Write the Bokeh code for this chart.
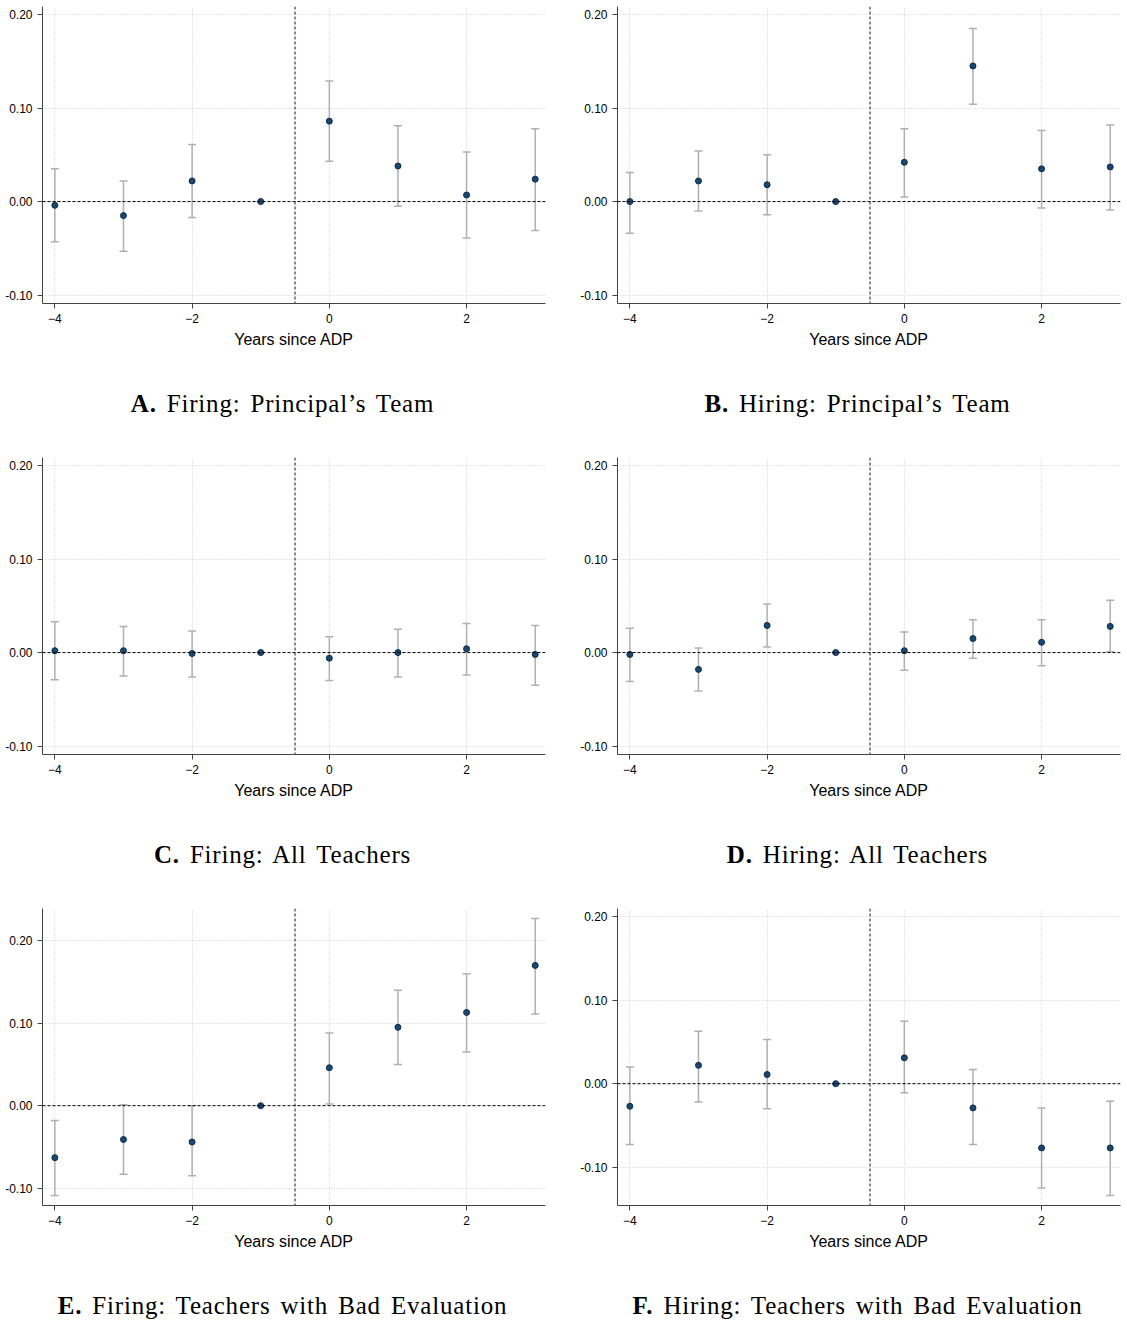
from bokeh.plotting import figure
from bokeh.models import ColumnDataSource, Whisker, TeeHead, Span, Div, FixedTicker, NumeralTickFormatter, Range1d
from bokeh.layouts import column, row
from bokeh.embed import file_html
from bokeh.resources import INLINE

years = [-4, -3, -2, -1, 0, 1, 2, 3]

# point estimates and confidence bounds per panel
a_est = [-0.004, -0.015, 0.022, 0.0, 0.086, 0.038, 0.007, 0.024]
a_lo = [-0.043, -0.053, -0.017, 0.0, 0.043, -0.005, -0.039, -0.031]
a_hi = [0.035, 0.022, 0.061, 0.0, 0.129, 0.081, 0.053, 0.078]

b_est = [0.0, 0.022, 0.018, 0.0, 0.042, 0.145, 0.035, 0.037]
b_lo = [-0.034, -0.010, -0.014, 0.0, 0.005, 0.104, -0.007, -0.009]
b_hi = [0.031, 0.054, 0.050, 0.0, 0.078, 0.185, 0.076, 0.082]

c_est = [0.002, 0.002, -0.001, 0.0, -0.006, 0.0, 0.004, -0.002]
c_lo = [-0.029, -0.025, -0.026, 0.0, -0.030, -0.026, -0.024, -0.035]
c_hi = [0.033, 0.028, 0.023, 0.0, 0.017, 0.025, 0.031, 0.029]

d_est = [-0.002, -0.018, 0.029, 0.0, 0.002, 0.015, 0.011, 0.028]
d_lo = [-0.031, -0.041, 0.006, 0.0, -0.019, -0.006, -0.014, 0.001]
d_hi = [0.026, 0.005, 0.052, 0.0, 0.022, 0.035, 0.035, 0.056]

e_est = [-0.063, -0.041, -0.044, 0.0, 0.046, 0.095, 0.113, 0.170]
e_lo = [-0.109, -0.083, -0.085, 0.0, 0.002, 0.050, 0.065, 0.111]
e_hi = [-0.018, 0.001, 0.0, 0.0, 0.088, 0.140, 0.160, 0.227]

f_est = [-0.027, 0.022, 0.011, 0.0, 0.031, -0.029, -0.077, -0.077]
f_lo = [-0.073, -0.022, -0.030, 0.0, -0.011, -0.073, -0.125, -0.134]
f_hi = [0.020, 0.063, 0.053, 0.0, 0.075, 0.017, -0.029, -0.021]

captions = [
    ("A.", "Firing: Principal\u2019s Team"),
    ("B.", "Hiring: Principal\u2019s Team"),
    ("C.", "Firing: All Teachers"),
    ("D.", "Hiring: All Teachers"),
    ("E.", "Firing: Teachers with Bad Evaluation"),
    ("F.", "Hiring: Teachers with Bad Evaluation"),
]

FONT = "Liberation Sans"
NAVY = "#1a476f"
W = 555


def panel(est, lo, hi, y0, y1, cap):
    p = figure(width=W, height=350, output_backend="svg", toolbar_location=None,
               x_range=Range1d(-4.18, 3.15), y_range=Range1d(y0, y1),
               min_border_left=42, min_border_right=10, min_border_top=6)
    src = ColumnDataSource(dict(x=years, y=est, lo=lo, hi=hi))
    p.add_layout(Whisker(source=src, base="x", lower="lo", upper="hi",
                         line_color="#b0b0b0", line_width=1.5,
                         upper_head=TeeHead(size=8, line_color="#b0b0b0", line_width=1.5),
                         lower_head=TeeHead(size=8, line_color="#b0b0b0", line_width=1.5)))
    p.add_layout(Span(location=0, dimension="width", line_color="black",
                      line_dash="3 2", line_width=1))
    p.add_layout(Span(location=-0.5, dimension="height", line_color=NAVY,
                      line_dash="3 2", line_width=1.2))
    p.scatter("x", "y", source=src, size=6, color=NAVY, line_color="#0e2d4a")

    p.xaxis.ticker = FixedTicker(ticks=[-4, -2, 0, 2])
    p.yaxis.ticker = FixedTicker(ticks=[-0.1, 0.0, 0.1, 0.2])
    p.yaxis.formatter = NumeralTickFormatter(format="0.00")
    p.xaxis.axis_label = "Years since ADP"
    p.xaxis.axis_label_text_font = FONT
    p.xaxis.axis_label_text_font_style = "normal"
    p.xaxis.axis_label_text_font_size = "16px"
    p.xaxis.axis_label_text_color = "black"
    for ax in (p.xaxis, p.yaxis):
        ax.major_label_text_font = FONT
        ax.major_label_text_font_size = "12px"
        ax.major_label_text_color = "black"
        ax.minor_tick_line_color = None
        ax.axis_line_color = "#444444"
        ax.major_tick_line_color = "#444444"
        ax.major_tick_out = 5
        ax.major_tick_in = 0
    p.xgrid.grid_line_color = "#cccccc"
    p.ygrid.grid_line_color = "#cccccc"
    p.xgrid.grid_line_dash = "1 2"
    p.ygrid.grid_line_dash = "1 2"
    p.outline_line_color = None

    d = Div(text=f"<b>{cap[0]}</b> {cap[1]}", width=W, height=60,
            styles={"font-family": "Liberation Serif", "font-size": "25px",
                    "letter-spacing": "0.8px", "word-spacing": "3px",
                    "text-align": "center", "width": f"{W}px", "margin-top": "36px"})
    return column(p, d, spacing=0)


panels = [
    panel(a_est, a_lo, a_hi, -0.109, 0.2086, captions[0]),
    panel(b_est, b_lo, b_hi, -0.109, 0.2086, captions[1]),
    panel(c_est, c_lo, c_hi, -0.109, 0.2086, captions[2]),
    panel(d_est, d_lo, d_hi, -0.109, 0.2086, captions[3]),
    panel(e_est, e_lo, e_hi, -0.121, 0.239, captions[4]),
    panel(f_est, f_lo, f_hi, -0.146, 0.21, captions[5]),
]

p = column(row(panels[0], panels[1], spacing=10),
           row(panels[2], panels[3], spacing=10),
           row(panels[4], panels[5], spacing=10), spacing=0)

open("out.html", "w").write(file_html(p, INLINE))
